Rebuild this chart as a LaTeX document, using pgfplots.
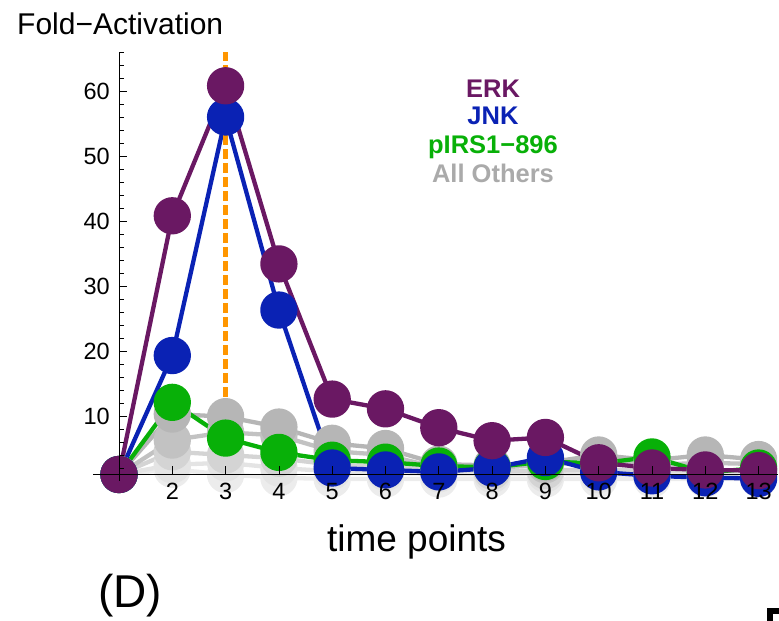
\documentclass[border=0pt]{standalone}
\usepackage{fontspec}
\setmainfont{Liberation Sans}
\usepackage{pgfplots}
\pgfplotsset{compat=1.18}

\definecolor{erk}{RGB}{106,24,99}
\definecolor{jnk}{RGB}{10,34,180}
\definecolor{irs}{RGB}{8,176,8}
\definecolor{others}{RGB}{170,170,170}
\definecolor{dashorange}{RGB}{255,150,0}
\definecolor{grayA}{RGB}{182,182,182}
\definecolor{grayB}{RGB}{194,194,194}
\definecolor{grayC}{RGB}{212,212,212}
\definecolor{grayD}{RGB}{228,228,228}
\definecolor{grayE}{RGB}{236,236,236}

\begin{document}
\begin{tikzpicture}
% page frame
\path (0,0) rectangle (779pt,621pt);
\begin{axis}[
  at={(119pt,146.5pt)}, anchor=south west,
  scale only axis, width=659pt, height=422.5pt,
  xmin=1, xmax=13.364, ymin=1, ymax=66,
  clip=false, set layers=axis on top,
  axis x line=bottom, axis y line=left,
  axis line style={line width=0.8pt, black},
  x axis line style={-, shorten <=-26pt},
  y axis line style={-, shorten <=-6.5pt},
  tick align=inside,
  tick style={black, line width=0.8pt},
  major tick length=8pt, minor tick length=4.5pt,
  xtick={2,3,...,13},
  ytick={10,20,...,60},
  minor ytick={2,4,...,66},
  tick label style={font=\fontsize{23.5}{28}\selectfont},
  /pgf/number format/assume math mode=true,
  xticklabel style={anchor=north, inner sep=0pt, yshift=-8.5pt},
  yticklabel style={anchor=east, inner sep=0pt, xshift=-9pt},
  every axis plot/.append style={line width=4.3pt, line join=round,
    mark=*, mark size=16.5pt, mark options={draw=none}},
]
% background curves (all other read-outs), lightest first
\addplot[color=grayE] coordinates {(1,1)(2,1.8)(3,1.0)(4,0.5)(5,0.3)(6,0.3)(7,0.3)(8,0.3)(9,0.3)(10,0.3)(11,0.3)(12,0.3)(13,0.3)};
\addplot[color=grayD] coordinates {(1,1)(2,2.5)(3,2.8)(4,2.0)(5,1.5)(6,1.3)(7,1.1)(8,1.0)(9,1.1)(10,1.0)(11,1.0)(12,1.0)(13,1.0)};
\addplot[color=grayC] coordinates {(1,1)(2,4.5)(3,4.0)(4,3.5)(5,2.5)(6,2.2)(7,1.8)(8,1.5)(9,1.6)(10,1.8)(11,1.6)(12,1.6)(13,1.6)};
\addplot[color=grayB] coordinates {(1,1)(2,6.3)(3,7.5)(4,7.0)(5,4.6)(6,4.0)(7,2.0)(8,2.0)(9,2.5)(10,3.0)(11,2.5)(12,2.8)(13,2.6)};
\addplot[color=grayA] coordinates {(1,1)(2,10.3)(3,9.9)(4,8.3)(5,5.8)(6,5.0)(7,2.6)(8,2.4)(9,2.8)(10,4.0)(11,3.2)(12,4.0)(13,3.3)};
% pIRS1-896
\addplot[color=irs] coordinates {(1,1)(2,12.1)(3,6.6)(4,4.4)(5,3.2)(6,2.9)(7,2.3)(8,2.1)(9,3.0)(10,2.7)(11,3.7)(12,1.3)(13,2.0)};
% JNK
\addplot[color=jnk] coordinates {(1,1)(2,19.3)(3,56.0)(4,26.3)(5,2.0)(6,1.7)(7,1.4)(8,2.0)(9,3.6)(10,1.4)(11,0.8)(12,0.5)(13,0.4)};
% ERK
\addplot[color=erk] coordinates {(1,1)(2,40.8)(3,60.8)(4,33.4)(5,12.6)(6,11.1)(7,8.2)(8,6.2)(9,6.7)(10,2.8)(11,2.0)(12,1.7)(13,1.6)};
% marker for time point 3
\addplot[color=dashorange, mark=none, line width=4.5pt, dash pattern=on 10pt off 4pt] coordinates {(3,0)(3,66)};
\end{axis}

\node[anchor=base west, inner sep=0pt, font=\fontsize{30}{36}\selectfont] at (17pt,586pt) {Fold−Activation};

\begin{scope}[every node/.style={anchor=base, inner sep=0pt, font=\fontsize{25.5}{30}\selectfont\bfseries}]
\node[text=erk] at (493pt,523.3pt) {ERK};
\node[text=jnk] at (493pt,496.7pt) {JNK};
\node[text=irs] at (493pt,467pt) {pIRS1−896};
\node[text=others] at (493pt,438pt) {All Others};
\end{scope}

\node[anchor=base, inner sep=0pt, font=\fontsize{37}{44}\selectfont] at (416.5pt,69pt) {time points};
\node[anchor=base, inner sep=0pt, font=\fontsize{46}{55}\selectfont] at (130pt,13pt) {(D)};

\fill[black] (767pt,0pt) rectangle (773pt,13pt);
\fill[black] (767pt,7pt) rectangle (779pt,13pt);
\end{tikzpicture}
\end{document}
